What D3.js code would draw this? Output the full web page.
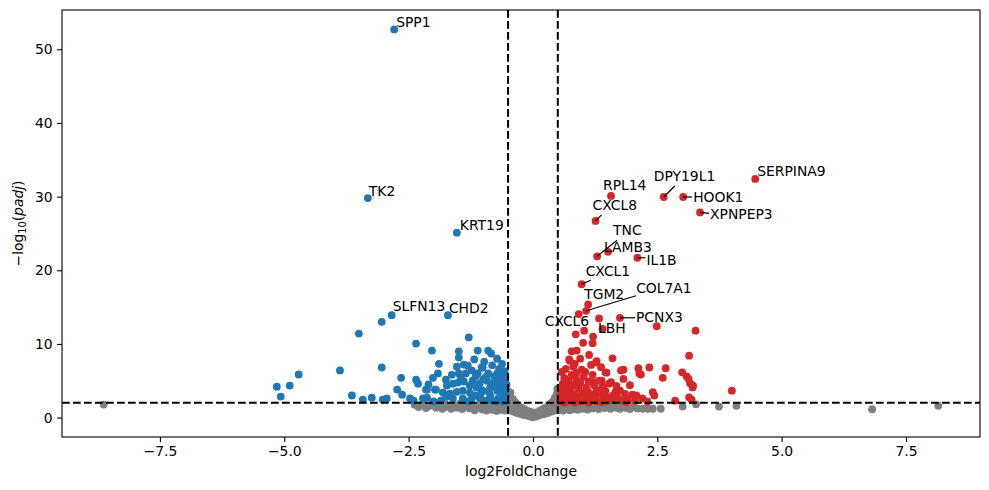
<!DOCTYPE html>
<html>
<head>
<meta charset="utf-8">
<script src="https://cdn.jsdelivr.net/npm/d3@7"></script>
<style>
  body { margin: 0; background: #fff; }
  svg { font-family: "DejaVu Sans", sans-serif; }
</style>
</head>
<body>
<svg id="volcano" width="989" height="490"></svg>
<script>
// log2FoldChange, -log10(padj)
const downGenes = [
  [-2.79, 52.7], [-3.32, 29.8], [-1.53, 25.1], [-2.84, 13.9], [-1.71, 13.9],
  [-5.15, 4.2], [-5.07, 2.85], [-4.89, 4.35], [-4.71, 5.85], [-3.88, 6.4], [-3.64, 3.0], [-3.50, 11.4],
  [-3.42, 2.45], [-3.24, 2.7], [-3.04, 13.0], [-3.04, 6.8], [-3.02, 2.45], [-2.94, 2.6], [-2.73, 3.8],
  [-2.65, 5.4], [-2.63, 3.1], [-2.47, 2.6], [-2.35, 10.05], [-2.35, 5.15], [-2.31, 4.6], [-2.15, 3.8],
  [-2.03, 9.1], [-1.89, 7.3], [-1.91, 6.0], [-2.01, 5.4], [-1.95, 3.8], [-1.75, 5.15], [-1.49, 9.0],
  [-1.49, 8.15], [-1.29, 10.9], [-1.11, 9.1], [-0.90, 9.1], [-0.84, 8.7], [-0.72, 8.0], [-1.53, 6.9],
  [-1.39, 7.2], [-1.31, 7.05], [-1.03, 6.8], [-1.49, 6.0], [-1.35, 6.0], [-1.23, 6.4], [-1.11, 6.0],
  [-1.01, 6.8], [-0.90, 6.0], [-0.72, 6.0], [-0.64, 6.0], [-2.13, 3.8], [-1.97, 3.8], [-1.73, 4.35],
  [-1.61, 4.6], [-1.51, 4.75], [-1.39, 4.9], [-2.21, 2.6], [-2.13, 2.7], [-1.81, 3.4], [-1.67, 3.25],
  [-1.53, 3.5], [-1.41, 3.65], [-1.27, 4.35], [-1.27, 3.4], [-1.21, 5.0], [-1.13, 4.1], [-1.07, 4.6],
  [-1.01, 3.65], [-0.92, 5.0], [-0.86, 4.1], [-0.80, 4.6], [-0.72, 3.65], [-0.66, 5.0], [-0.62, 4.1],
  [-0.60, 3.25], [-0.86, 3.0], [-1.07, 2.7], [-1.23, 2.6], [-1.41, 2.6], [-1.61, 2.6], [-0.70, 2.6],
  [-0.55, 2.3], [-0.58, 3.8], [-0.56, 5.2], [-0.68, 6.6], [-0.78, 5.6], [-0.95, 5.5], [-1.15, 5.6],
  [-0.75, 2.2], [-0.95, 2.3], [-1.30, 2.2], [-1.85, 2.3], [-2.00, 2.2], [-2.40, 2.3], [-0.82, 7.1],
  [-0.98, 7.6], [-1.18, 7.9], [-0.62, 7.3], [-0.57, 6.3], [-0.66, 2.9], [-0.88, 3.5], [-1.17, 3.0],
  [-0.53, 4.5], [-0.76, 4.3], [-1.00, 5.2], [-1.45, 5.4], [-1.63, 5.8], [-1.75, 2.8], [-2.10, 4.5],
  [-0.54, 2.9], [-0.61, 2.2], [-0.70, 4.8], [-0.86, 2.4], [-1.05, 3.2], [-0.54, 3.6], [-0.59, 5.8]
];

const upGenes = [
  [4.47, 32.4], [2.63, 29.95], [3.02, 29.95], [3.36, 27.85], [1.57, 30.1], [1.26, 26.7], [1.29, 21.9],
  [1.51, 22.5], [2.10, 21.7], [0.98, 18.1], [1.11, 15.35], [1.07, 14.5], [0.92, 14.05], [1.75, 13.55],
  [1.33, 13.45], [1.40, 12.05], [2.49, 12.4], [3.27, 11.8], [0.86, 11.3], [1.03, 11.8], [1.21, 11.0],
  [1.01, 10.15], [1.20, 10.1], [0.78, 9.0], [0.88, 9.1], [1.13, 8.5], [1.60, 8.05], [0.73, 7.9],
  [0.95, 8.0], [1.28, 7.65], [0.81, 6.9], [0.98, 6.5], [1.37, 6.85], [1.48, 6.1], [1.77, 6.4],
  [2.12, 6.7], [2.34, 6.8], [2.67, 6.7], [3.00, 6.15], [3.14, 8.4], [3.09, 5.6], [3.22, 4.35],
  [2.61, 5.4], [2.14, 6.0], [1.82, 5.25], [1.57, 4.8], [1.75, 3.65], [2.00, 3.1], [2.41, 3.45],
  [2.44, 3.0], [2.86, 2.3], [2.17, 5.85], [3.13, 5.25], [3.16, 4.65], [3.21, 4.1], [3.14, 2.75],
  [3.19, 2.45], [4.00, 3.65], [0.74, 7.7], [0.84, 7.3], [1.17, 7.15], [1.27, 7.5], [1.46, 6.15],
  [1.82, 6.5], [1.38, 5.0], [1.23, 4.8], [1.41, 3.9], [1.28, 3.45], [1.61, 3.0], [1.51, 2.75],
  [2.08, 3.0], [0.55, 2.2], [0.55, 3.0], [0.57, 3.8], [0.60, 4.6], [0.60, 2.6], [0.63, 5.4],
  [0.65, 3.4], [0.67, 2.1], [0.70, 4.2], [0.72, 5.0], [0.74, 2.8], [0.76, 3.6], [0.78, 5.8],
  [0.80, 2.3], [0.82, 4.4], [0.85, 3.1], [0.87, 5.2], [0.90, 2.6], [0.92, 3.9], [0.95, 4.7],
  [0.97, 2.2], [1.00, 3.3], [1.02, 5.5], [1.05, 2.7], [1.07, 4.1], [1.10, 3.6], [1.12, 4.9],
  [1.15, 2.4], [1.18, 3.1], [1.20, 5.8], [1.23, 4.4], [1.25, 2.8], [1.28, 3.7], [1.30, 2.2],
  [1.33, 5.0], [1.36, 3.2], [1.40, 4.2], [1.43, 2.6], [1.46, 3.6], [1.50, 2.3], [1.53, 4.6],
  [1.62, 2.4], [1.66, 3.5], [1.70, 2.7], [1.78, 2.3], [1.85, 3.2], [1.90, 2.5], [2.05, 2.3],
  [2.20, 2.6], [2.30, 2.2], [0.58, 6.2], [0.66, 6.6], [0.68, 3.0], [0.88, 6.1], [1.05, 6.2],
  [0.62, 2.05], [0.84, 2.05], [1.12, 2.05], [1.38, 2.1], [1.95, 4.4], [1.68, 4.3], [1.88, 2.1]
];

const nsGenes = [
  [-8.63, 1.77], [6.82, 1.13], [8.15, 1.6],
  [-2.38, 1.75], [-2.30, 1.45], [-2.22, 1.85], [-2.15, 1.3], [-2.08, 1.6], [-2.00, 1.9], [-1.95, 1.35],
  [-1.88, 1.6], [-1.82, 1.2], [-1.76, 1.8], [-1.70, 1.45], [-1.64, 1.2], [-1.58, 1.7], [-1.52, 1.35],
  [-1.47, 1.9], [-1.42, 1.15], [-1.37, 1.55], [-1.32, 1.8], [-1.27, 1.25], [-1.22, 1.6], [-1.17, 1.0],
  [-1.12, 1.4], [-1.07, 1.85], [-1.02, 1.1], [-0.97, 1.5], [-0.93, 0.95], [-0.89, 1.3], [-0.85, 1.75],
  [-0.81, 1.05], [-0.77, 1.5], [-0.73, 0.9], [-0.70, 1.25], [-0.67, 1.85], [-0.64, 1.05], [-0.61, 1.45],
  [-0.58, 2.4], [-0.56, 0.95], [-0.54, 1.7], [-0.52, 2.9], [-0.51, 3.6],
  [-0.49, 1.0], [-0.48, 1.6], [-0.47, 2.2], [-0.46, 2.9], [-0.45, 3.4], [-0.44, 1.3], [-0.42, 0.9],
  [-0.41, 1.9], [-0.40, 2.5], [-0.38, 0.8], [-0.37, 1.5], [-0.36, 2.1], [-0.34, 0.7], [-0.33, 1.2],
  [-0.31, 1.8], [-0.30, 0.6], [-0.28, 1.0], [-0.27, 1.5], [-0.25, 0.5], [-0.23, 0.9], [-0.22, 1.3],
  [-0.20, 0.4], [-0.18, 0.7], [-0.17, 1.1], [-0.15, 0.35], [-0.13, 0.6], [-0.12, 0.95], [-0.10, 0.25],
  [-0.08, 0.5], [-0.06, 0.8], [-0.05, 0.15], [-0.03, 0.4], [-0.01, 0.05], [0.01, 0.3], [0.02, 0.7],
  [0.04, 0.1], [0.06, 0.45], [0.08, 0.2], [0.10, 0.6], [0.11, 0.3], [0.13, 0.9], [0.15, 0.4],
  [0.17, 0.7], [0.19, 1.1], [0.20, 0.45], [0.22, 0.8], [0.24, 1.3], [0.26, 0.55], [0.28, 1.0],
  [0.30, 1.5], [0.31, 0.65], [0.33, 1.2], [0.35, 1.9], [0.36, 0.8], [0.38, 1.4], [0.40, 2.2],
  [0.41, 0.9], [0.43, 1.6], [0.44, 2.7], [0.46, 1.1], [0.47, 2.0], [0.48, 3.2], [0.49, 3.9], [0.50, 1.3],
  [0.51, 1.0], [0.52, 1.8], [0.53, 2.6], [0.54, 3.4], [0.56, 4.1], [0.58, 1.3], [0.61, 0.95],
  [0.64, 1.6], [0.67, 1.15], [0.70, 1.85], [0.74, 1.0], [0.78, 1.4], [0.82, 1.15], [0.86, 1.7],
  [0.90, 1.05], [0.95, 1.45], [1.00, 1.2], [1.05, 1.8], [1.10, 1.1], [1.15, 1.5], [1.20, 1.25],
  [1.26, 1.85], [1.32, 1.15], [1.38, 1.55], [1.44, 1.3], [1.50, 1.9], [1.56, 1.2], [1.62, 1.6],
  [1.68, 1.35], [1.75, 1.2], [1.82, 1.7], [1.88, 1.3], [1.95, 1.15], [2.02, 1.5], [2.10, 1.25],
  [2.21, 1.2], [2.31, 1.2], [2.41, 1.2], [2.57, 1.2], [3.01, 1.5], [3.28, 1.8], [3.74, 1.5], [4.09, 1.6]
];

// labelled genes: name, log2FoldChange, -log10(padj)
const labelNames = ["SPP1", "TK2", "KRT19", "SLFN13", "CHD2", "SERPINA9", "DPY19L1", "HOOK1", "XPNPEP3",
  "RPL14", "CXCL8", "TNC", "LAMB3", "IL1B", "CXCL1", "TGM2", "COL7A1", "CXCL6", "PCNX3", "LBH"];
const labelX = [-2.79, -3.32, -1.53, -2.84, -1.71, 4.47, 2.63, 3.02, 3.36,
  1.57, 1.26, 1.29, 1.51, 2.10, 0.98, 1.11, 1.07, 0.92, 1.75, 1.33];
const labelY = [52.7, 29.8, 25.1, 13.9, 13.9, 32.4, 29.95, 29.95, 27.85,
  30.1, 26.7, 21.9, 22.5, 21.7, 18.1, 15.35, 14.5, 14.05, 13.55, 13.45];

const fcCut = 0.5;
const padjCut = 2;
const xTicks = [-7.5, -5.0, -2.5, 0.0, 2.5, 5.0, 7.5];
const yTicks = [0, 10, 20, 30, 40, 50];

// text placement (pixel offsets from the point) and connector ends
const labelLayout = {
  SPP1: [2, -7], TK2: [1, -7], KRT19: [3, -8], SLFN13: [1, -9], CHD2: [1, -7],
  SERPINA9: [2, -8], DPY19L1: [-10, -21, 11, -11], HOOK1: [10, 0, 9, 0], XPNPEP3: [10, 2, 9, 1],
  RPL14: [-8, -11], CXCL8: [-3, -16, 6, -6], TNC: [16, -26, 20, -16], LAMB3: [-4, -5],
  IL1B: [9, 2, 8, 0], CXCL1: [4, -13, 9, -4], TGM2: [-4, -11], COL7A1: [50, -23, 50, -15],
  CXCL6: [-34, 7], PCNX3: [16, -1, 15, 0], LBH: [-1, 9]
};

const svg = d3.select("#volcano");
const width = +svg.attr("width");
const height = +svg.attr("height");
const margin = { top: 10, right: 9, bottom: 53, left: 62 };

const allPts = downGenes.concat(upGenes, nsGenes);
const xExt = d3.extent(allPts, d => d[0]);
const yExt = [0, d3.max(allPts, d => d[1])];
const xPad = (xExt[1] - xExt[0]) * 0.05;
const yPad = (yExt[1] - yExt[0]) * 0.05;

const x = d3.scaleLinear()
  .domain([xExt[0] - xPad, xExt[1] + xPad])
  .range([margin.left, width - margin.right]);

const y = d3.scaleLinear()
  .domain([yExt[0] - yPad, yExt[1] + yPad])
  .range([height - margin.bottom, margin.top]);

const fmt = d => d3.format(".1f")(d).replace("-", "\u2212");

// x axis
const xAxis = svg.append("g")
  .attr("transform", `translate(0,${height - margin.bottom})`)
  .call(d3.axisBottom(x).tickValues(xTicks).tickFormat(fmt).tickSize(4.9).tickPadding(4.5));
xAxis.select(".domain").remove();
xAxis.selectAll("text").attr("font-size", "13.9px").attr("fill", "#000").attr("font-family", "DejaVu Sans");
xAxis.selectAll("line").attr("stroke-width", 1.1);

// y axis
const yAxis = svg.append("g")
  .attr("transform", `translate(${margin.left},0)`)
  .call(d3.axisLeft(y).tickValues(yTicks).tickFormat(d3.format("d")).tickSize(4.9).tickPadding(4.5));
yAxis.select(".domain").remove();
yAxis.selectAll("text").attr("font-size", "13.9px").attr("fill", "#000").attr("font-family", "DejaVu Sans");
yAxis.selectAll("line").attr("stroke-width", 1.1);

// points
const drawPts = (pts, color) => {
  svg.append("g")
    .selectAll("circle")
    .data(pts)
    .enter()
    .append("circle")
      .attr("cx", d => x(d[0]))
      .attr("cy", d => y(d[1]))
      .attr("r", 3.9)
      .attr("fill", color);
};
drawPts(nsGenes, "#7f7f7f");
drawPts(downGenes, "#1f77b4");
drawPts(upGenes, "#d62728");

// threshold lines
const dash = "7.7,3.3";
[-fcCut, fcCut].forEach(v => {
  svg.append("line")
    .attr("x1", x(v)).attr("x2", x(v))
    .attr("y1", margin.top).attr("y2", height - margin.bottom)
    .attr("stroke", "#000").attr("stroke-width", 2).attr("stroke-dasharray", dash);
});
svg.append("line")
  .attr("x1", margin.left).attr("x2", width - margin.right)
  .attr("y1", y(padjCut)).attr("y2", y(padjCut))
  .attr("stroke", "#000").attr("stroke-width", 2).attr("stroke-dasharray", dash);

// frame
svg.append("rect")
  .attr("x", margin.left).attr("y", margin.top)
  .attr("width", width - margin.left - margin.right)
  .attr("height", height - margin.top - margin.bottom)
  .attr("fill", "none").attr("stroke", "#000").attr("stroke-width", 1.1);

// gene labels
labelNames.forEach((name, i) => {
  const px = x(labelX[i]);
  const py = y(labelY[i]);
  const L = labelLayout[name];
  if (L.length > 2) {
    svg.append("line")
      .attr("x1", px).attr("y1", py)
      .attr("x2", px + L[2]).attr("y2", py + L[3])
      .attr("stroke", "#000").attr("stroke-width", 1.2);
  }
  svg.append("text")
    .attr("x", px + L[0])
    .attr("y", py + L[1])
    .attr("dy", "0.36em")
    .attr("font-size", "13.9px")
    .text(name);
});

// axis labels
svg.append("text")
  .attr("x", (margin.left + width - margin.right) / 2)
  .attr("y", 476)
  .attr("text-anchor", "middle")
  .attr("font-size", "13.9px")
  .text("log2FoldChange");

const yl = svg.append("text")
  .attr("transform", `translate(23,${(margin.top + height - margin.bottom) / 2}) rotate(-90)`)
  .attr("text-anchor", "middle")
  .attr("font-size", "13.9px");
yl.append("tspan").text("\u2212log");
yl.append("tspan").attr("font-size", "9.7px").attr("dy", "3").text("10");
yl.append("tspan").attr("dy", "-3").text("(");
yl.append("tspan").attr("font-style", "italic").text("padj");
yl.append("tspan").text(")");
</script>
</body>
</html>
